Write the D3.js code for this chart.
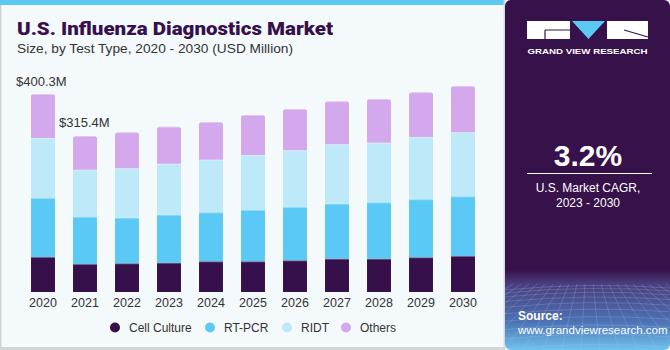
<!DOCTYPE html>
<html><head><meta charset="utf-8">
<script src="https://cdn.jsdelivr.net/npm/d3@7"></script>
<style>
html,body{margin:0;padding:0;background:#fff;}
svg{display:block;}
</style></head>
<body>
<svg id="c" width="670" height="350"></svg>
<script>
const years = ["2020","2021","2022","2023","2024","2025","2026","2027","2028","2029","2030"];
const seriesNames = ["Cell Culture","RT-PCR","RIDT","Others"];
const cellCulture = [70.8, 56.6, 58.0, 59.2, 62.1, 62.1, 64.1, 67.3, 67.3, 70.2, 72.8];
const rtPcr       = [119.3, 95.6, 92.2, 97.0, 99.1, 103.7, 107.8, 111.2, 114.0, 117.3, 120.7];
const ridt        = [121.2, 95.0, 99.9, 103.1, 106.3, 111.2, 114.6, 120.1, 120.5, 126.0, 129.4];
const others      = [89.0, 68.2, 72.8, 74.8, 76.2, 80.9, 83.5, 86.9, 88.3, 90.4, 93.6];
const colors = ["#36104a","#5bc9f6","#bde9f9","#d4a8ec"];
const valueLabels = [{year:"2020", text:"$400.3M"},{year:"2021", text:"$315.4M"}];

const svg = d3.select("#c");
// background
svg.append("rect").attr("x",0).attr("y",0).attr("width",670).attr("height",350).attr("fill","#f4f9fc");
svg.append("rect").attr("x",0).attr("y",0).attr("width",1.5).attr("height",350).attr("fill","#cfd3d6");
svg.append("rect").attr("x",0).attr("y",347).attr("width",505).attr("height",3).attr("fill","#d2d6d9");
svg.append("rect").attr("x",0).attr("y",0).attr("width",505).attr("height",5).attr("fill","#5bc9f3");

// title
svg.append("text").attr("x",17).attr("y",35).text("U.S. Influenza Diagnostics Market")
  .attr("font-family","Roboto, 'Liberation Sans', sans-serif").attr("font-weight",900)
  .attr("font-size",19).attr("fill","#36104a").attr("textLength",316).attr("lengthAdjust","spacingAndGlyphs");
svg.append("text").attr("x",17).attr("y",53).text("Size, by Test Type, 2020 - 2030 (USD Million)")
  .attr("font-family","'Liberation Sans', Arial, sans-serif").attr("font-size",13).attr("fill","#333")
  .attr("textLength",276).attr("lengthAdjust","spacingAndGlyphs");

// data
const data = years.map((y,i)=>({year:y, "Cell Culture":cellCulture[i], "RT-PCR":rtPcr[i], "RIDT":ridt[i], "Others":others[i]}));
const stack = d3.stack().keys(seriesNames)(data);

const x = d3.scaleBand().domain(years).range([22,484]).paddingInner(0.43).paddingOuter(0.215);
const y = d3.scaleLinear().domain([0,400.3]).range([292,94]);

const g = svg.append("g");
stack.forEach((layer,li)=>{
  const isTop = li === stack.length-1;
  layer.forEach(d=>{
    const x0 = x(d.data.year), w = x.bandwidth();
    const yTop = y(d[1]), yBot = y(d[0]);
    if(isTop){
      const r = 2.5;
      const p = d3.path();
      p.moveTo(x0, yBot);
      p.lineTo(x0, yTop + r);
      p.quadraticCurveTo(x0, yTop, x0 + r, yTop);
      p.lineTo(x0 + w - r, yTop);
      p.quadraticCurveTo(x0 + w, yTop, x0 + w, yTop + r);
      p.lineTo(x0 + w, yBot);
      p.closePath();
      g.append("path").attr("d", p.toString()).attr("fill", colors[li]);
    } else {
      g.append("rect").attr("x",x0).attr("y",yTop).attr("width",w).attr("height",yBot-yTop).attr("fill",colors[li]);
    }
    g.append("line").attr("x1",x0).attr("x2",x0+w).attr("y1",yTop+0.5).attr("y2",yTop+0.5)
      .attr("stroke","#ffffff").attr("stroke-opacity",0.35).attr("stroke-width",1);
  });
});

// x axis labels
const xAxis = d3.axisBottom(x).tickSize(0).tickPadding(0);
const ax = svg.append("g").attr("transform","translate(0,295)").call(xAxis);
ax.select(".domain").remove();
ax.selectAll("text").attr("font-family","'Liberation Sans', Arial, sans-serif").attr("font-size",12.5)
  .attr("fill","#333").attr("dy","0.95em");

// value labels
const totals = data.map(d=>seriesNames.reduce((s,k)=>s+d[k],0));
svg.append("text").attr("x",16).attr("y",y(totals[0])-8).text(valueLabels[0].text)
  .attr("font-family","'Liberation Sans', Arial, sans-serif").attr("font-size",13).attr("fill","#333");
svg.append("text").attr("x",x("2021")-14).attr("y",y(totals[1])-9).text(valueLabels[1].text)
  .attr("font-family","'Liberation Sans', Arial, sans-serif").attr("font-size",13).attr("fill","#333");

// legend
const legendX = [115, 210, 287, 346];
const lg = svg.append("g");
seriesNames.forEach((n,i)=>{
  lg.append("circle").attr("cx",legendX[i]).attr("cy",327.5).attr("r",5).attr("fill",colors[i]);
  lg.append("text").attr("x",legendX[i]+14).attr("y",332).text(n)
    .attr("font-family","'Liberation Sans', Arial, sans-serif").attr("font-size",12).attr("fill","#333");
});

// right panel
const panel = svg.append("g");
const defs = svg.append("defs");
const grad = defs.append("linearGradient").attr("id","pg").attr("x1",0).attr("x2",0).attr("y1",0).attr("y2",1);
grad.append("stop").attr("offset","0").attr("stop-color","#36114a");
grad.append("stop").attr("offset","0.77").attr("stop-color","#36114a");
grad.append("stop").attr("offset","0.81").attr("stop-color","#4a3c7c");
grad.append("stop").attr("offset","0.92").attr("stop-color","#4d72b4");
grad.append("stop").attr("offset","1").attr("stop-color","#6fc3ee");
defs.append("clipPath").attr("id","pc").append("rect").attr("x",505).attr("y",0).attr("width",165).attr("height",350).attr("rx",6);
panel.append("rect").attr("x",503.5).attr("y",0).attr("width",2).attr("height",350).attr("fill","#d6d9dc");
const pc = panel.append("g").attr("clip-path","url(#pc)");
pc.append("rect").attr("x",505).attr("y",0).attr("width",165).attr("height",350).attr("fill","url(#pg)");
const gridG = pc.append("g").attr("stroke","#a9c4ee").attr("stroke-opacity",0.35).attr("stroke-width",0.7).attr("fill","none");
for(let k=0;k<12;k++){
  const yy = 286 + k*k*0.45 + k*2.5;
  gridG.append("path").attr("d",`M505,${yy+4} Q588,${yy-4} 670,${yy+2}`);
}
for(let k=-10;k<=22;k++){
  const xt = 505 + k*8;
  gridG.append("line").attr("x1",xt).attr("y1",284).attr("x2",588+(xt-588)*2.4).attr("y2",350);
}
// logo
panel.append("rect").attr("x",527).attr("y",21).attr("width",43).attr("height",18).attr("fill","#fff");
panel.append("rect").attr("x",607).attr("y",21).attr("width",41).attr("height",18).attr("fill","#fff");
panel.append("path").attr("d","M572,21 L605,21 L588.5,39 Z").attr("fill","#5bc9f3");
panel.append("path").attr("d","M545,30 L570,30 M545,30 L545,39").attr("stroke","#36114a").attr("stroke-width",1.2);
panel.append("path").attr("d","M624,30 L648,37").attr("stroke","#36114a").attr("stroke-width",1.2);
panel.append("text").attr("x",587.5).attr("y",54).attr("text-anchor","middle").text("GRAND VIEW RESEARCH")
  .attr("font-family","'Liberation Sans', Arial, sans-serif").attr("font-weight","bold").attr("font-size",8)
  .attr("fill","#fff").attr("textLength",120).attr("lengthAdjust","spacingAndGlyphs");
panel.append("text").attr("x",588).attr("y",166).attr("text-anchor","middle").text("3.2%")
  .attr("font-family","'Liberation Sans', Arial, sans-serif").attr("font-weight","bold").attr("font-size",30).attr("fill","#fff");
panel.append("line").attr("x1",527).attr("x2",652).attr("y1",173.5).attr("y2",173.5).attr("stroke","#fff").attr("stroke-width",1);
panel.append("text").attr("x",588).attr("y",192).attr("text-anchor","middle").text("U.S. Market CAGR,")
  .attr("font-family","'Liberation Sans', Arial, sans-serif").attr("font-size",12).attr("fill","#fff");
panel.append("text").attr("x",588).attr("y",207).attr("text-anchor","middle").text("2023 - 2030")
  .attr("font-family","'Liberation Sans', Arial, sans-serif").attr("font-size",12).attr("fill","#fff");
panel.append("text").attr("x",518).attr("y",320).text("Source:")
  .attr("font-family","'Liberation Sans', Arial, sans-serif").attr("font-weight","bold").attr("font-size",12).attr("fill","#fff");
panel.append("text").attr("x",518).attr("y",334).text("www.grandviewresearch.com")
  .attr("font-family","'Liberation Sans', Arial, sans-serif").attr("font-size",11.5).attr("fill","#fff");
</script>
</body></html>
